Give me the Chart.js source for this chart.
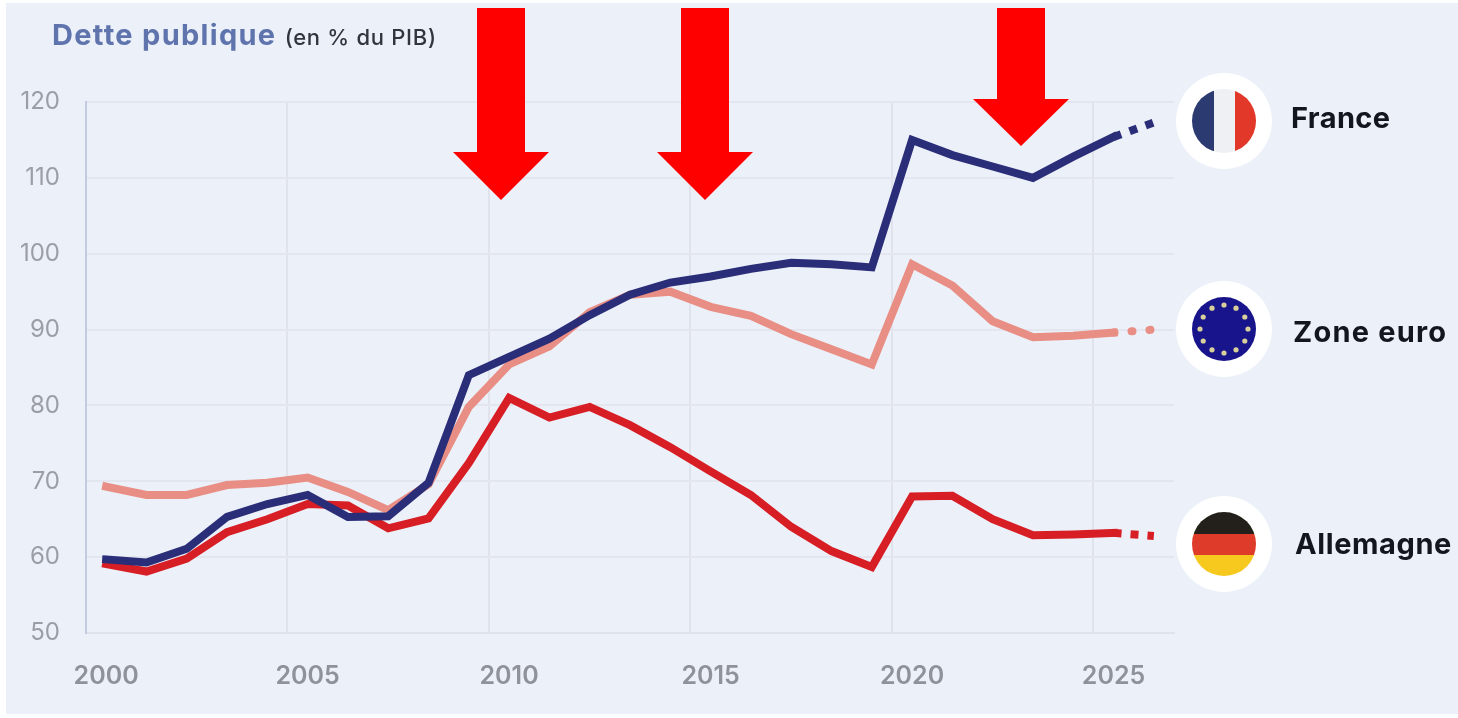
<!DOCTYPE html>
<html lang="fr">
<head>
<meta charset="utf-8">
<title>Dette publique</title>
<script src="https://cdn.jsdelivr.net/npm/chart.js@4"></script>
<style>
  html, body { margin: 0; padding: 0; background: #fff; }
  #wrap { position: relative; width: 1458px; height: 718px; overflow: hidden; font-family: Inter, "Noto Sans", sans-serif; }
  #panel { position: absolute; left: 6px; top: 3px; right: 0; bottom: 4px; background: #ecf0f9; }
  #debt-chart { position: absolute; left: 0; top: 0; }
  #overlay { position: absolute; left: 0; top: 0; }
  .title { position: absolute; left: 52px; top: 17px; white-space: nowrap; color: #5f74ad; font-size: 29px; font-weight: 700; letter-spacing: 1.3px; }
  .title span { color: #33353d; font-size: 22px; font-weight: 500; letter-spacing: 0.7px; margin-left: 0; }
  .country { position: absolute; color: #14161f; font-size: 29px; font-weight: 700; letter-spacing: 0.4px; white-space: nowrap; line-height: 34px; }
</style>
</head>
<body>
<div id="wrap">
  <div id="panel"></div>
  <canvas id="debt-chart" width="1458" height="718"></canvas>
  <svg id="overlay" width="1458" height="718" viewBox="0 0 1458 718"></svg>
  <div class="title">Dette publique <span>(en % du PIB)</span></div>
  <div class="country" style="left:1291px;top:101px">France</div>
  <div class="country" style="left:1293px;top:315px;letter-spacing:1.2px">Zone euro</div>
  <div class="country" style="left:1295px;top:527px;letter-spacing:0.6px">Allemagne</div>
</div>
<script>
const years = ['2000', '2001', '2002', '2003', '2004', '2005', '2006', '2007', '2008', '2009', '2010', '2011', '2012', '2013',
  '2014', '2015', '2016', '2017', '2018', '2019', '2020', '2021', '2022', '2023', '2024', '2025', '2026'];
const france = [59.7, 59.3, 61.1, 65.3, 67, 68.2, 65.3, 65.4, 69.8, 84, 86.4, 88.8, 91.9, 94.6, 96.2, 97, 98, 98.8, 98.6, 98.2,
  115, 113, 111.5, 110, 112.8, 115.4, 117.3];
const zoneEuro = [69.3, 68.2, 68.2, 69.5, 69.8, 70.5, 68.6, 66.2, 69.6, 79.8, 85.4, 87.8, 92.3, 94.6, 95, 93, 91.8, 89.4, 87.4, 85.4,
  98.6, 95.8, 91.1, 89, 89.2, 89.6, 90];
const allemagne = [59.1, 58.1, 59.8, 63.3, 65, 67, 66.8, 63.8, 65.1, 72.4, 81, 78.4, 79.8, 77.4, 74.5, 71.3, 68.2, 64, 60.8, 58.7,
  68, 68.1, 65, 62.9, 63, 63.2, 62.8];
const yTicks = [50, 60, 70, 80, 90, 100, 110, 120];

// the last year is a forecast: dashed on the final segment only
function forecastSegment(dash, cap) {
  return {
    borderDash: (ctx) => (ctx.p0DataIndex === years.length - 2 ? dash : undefined),
    borderCapStyle: (ctx) => (ctx.p0DataIndex === years.length - 2 ? cap : undefined),
  };
}

function makeLine(label, data, color, dash, cap) {
  return {
    label,
    data,
    borderColor: color,
    borderWidth: 8,
    pointRadius: 0,
    tension: 0,
    borderCapStyle: 'square',
    borderJoinStyle: 'miter',
    segment: forecastSegment(dash, cap),
  };
}

new Chart(document.getElementById('debt-chart'), {
  type: 'line',
  data: {
    labels: years,
    datasets: [
      makeLine('France', france, '#2a2d77', [8, 9], 'butt'),
      makeLine('Allemagne', allemagne, '#d81e25', [8, 9], 'butt'),
      makeLine('Zone euro', zoneEuro, '#e88e84', [1, 17], 'round'),
    ],
  },
  options: {
    responsive: false,
    animation: false,
    layout: { padding: { top: 102, right: 284 } },
    plugins: { legend: { display: false }, tooltip: { enabled: false } },
    scales: {
      x: {
        offset: true,
        grid: {
          offset: true,
          drawTicks: false,
          lineWidth: 2,
          color: (ctx) => (ctx.index % 5 === 0 ? '#e0e3ec' : 'transparent'),
        },
        border: { color: '#e0e3ec', width: 2 },
        ticks: {
          autoSkip: false,
          maxRotation: 0,
          padding: 28,
          color: '#8f929b',
          font: { family: 'Inter', size: 25, weight: '600' },
          callback: (value, i) => (i % 5 === 0 ? years[i] : ''),
        },
        afterFit: (scale) => { scale.height = 85; },
      },
      y: {
        min: 50,
        max: 120,
        afterBuildTicks: (scale) => { scale.ticks = yTicks.map((value) => ({ value })); },
        grid: { drawTicks: false, lineWidth: 2, color: '#e3e6ef' },
        border: { color: '#c4cae0', width: 2 },
        ticks: {
          padding: 26,
          color: '#9b9ea6',
          font: { family: 'Inter', size: 24, weight: '400' },
        },
        afterFit: (scale) => { scale.width = 86; },
      },
    },
  },
});

// flags and red arrows sit on top of the chart, they are not data
const overlay = document.getElementById('overlay');
const NS = 'http://www.w3.org/2000/svg';

function addShape(name, attrs, parent = overlay) {
  const el = document.createElementNS(NS, name);
  Object.entries(attrs).forEach(([key, val]) => el.setAttribute(key, val));
  parent.appendChild(el);
  return el;
}

function addArrow(x, shaftEnd, tip) {
  const points = [[x - 24, 8], [x + 24, 8], [x + 24, shaftEnd], [x + 48, shaftEnd], [x, tip], [x - 48, shaftEnd], [x - 24, shaftEnd]];
  addShape('polygon', { points: points.map((p) => p.join(',')).join(' '), fill: '#ff0000' });
}

function addFlag(id, cy, stripes) {
  const cx = 1224;
  const clip = addShape('clipPath', { id });
  addShape('circle', { cx, cy, r: 32 }, clip);
  addShape('circle', { cx, cy, r: 48, fill: '#fff' });
  const g = addShape('g', { 'clip-path': `url(#${id})` });
  stripes.forEach((s) => addShape('rect', { x: cx + s[0], y: cy + s[1], width: s[2], height: s[3], fill: s[4] }, g));
  return g;
}

addArrow(501, 152, 200);
addArrow(705, 152, 200);
addArrow(1021, 99, 146);

addFlag('flag-fr', 121, [[-32, -32, 22, 64, '#2c3a72'], [-10, -32, 21, 64, '#eef0f4'], [11, -32, 21, 64, '#e2382a']]);
addFlag('flag-eu', 329, [[-32, -32, 64, 64, '#18148c']]);
addFlag('flag-de', 544, [[-32, -32, 64, 22, '#231f1a'], [-32, -10, 64, 21, '#df3b2b'], [-32, 11, 64, 21, '#f7c81e']]);

for (let i = 0; i < 12; i++) {
  const a = (i * Math.PI) / 6;
  addShape('circle', { cx: 1224 + 24 * Math.cos(a), cy: 329 + 24 * Math.sin(a), r: 2.6, fill: '#d8d09a' });
}
</script>
</body>
</html>
